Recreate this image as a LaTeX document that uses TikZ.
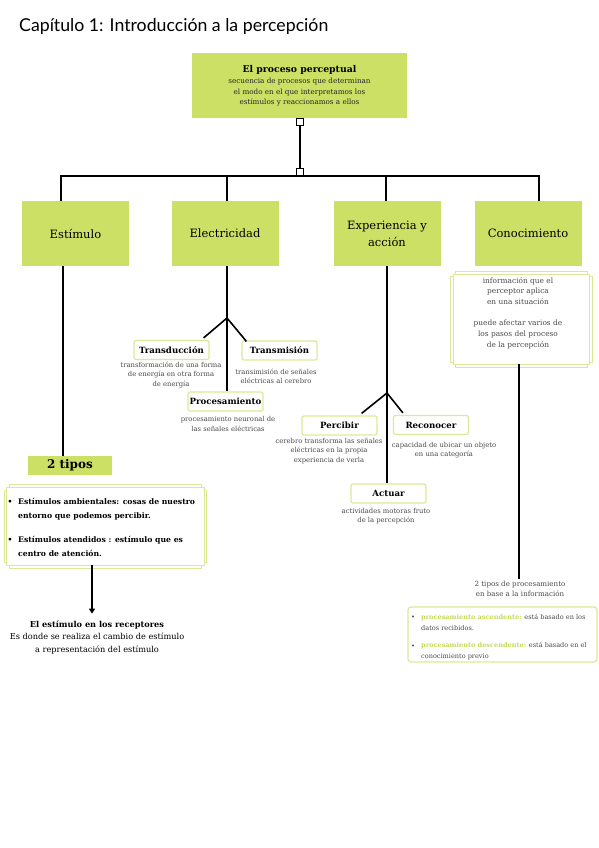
\documentclass[tikz,border=0pt]{standalone}
\usepackage{fontspec}
\usepackage{xcolor}
\setmainfont{DejaVu Serif}
\newfontfamily\titlefont{Lato}
\usetikzlibrary{arrows.meta}

\definecolor{boxgreen}{HTML}{CCE066}
\definecolor{framegreen}{HTML}{DCE898}
\definecolor{descgray}{HTML}{4A4A4A}
\definecolor{accgreen}{HTML}{C4DB55}

\tikzset{
  mainbox/.style={fill=boxgreen, minimum width=107pt, minimum height=65pt, inner sep=2pt, align=center, font=\fontsize{11.5}{14}\selectfont},
  subbox/.style={draw=framegreen, line width=1.2pt, fill=white, rounded corners=2pt, minimum width=75pt, minimum height=19pt, inner sep=1pt, font=\bfseries\fontsize{8.6}{10}\selectfont},
  desc/.style={align=center, text=descgray, font=\fontsize{6.8}{9.3}\selectfont, inner sep=0pt},
  link/.style={line width=1.6pt},
  sq/.style={draw, line width=1.3pt, fill=white, minimum size=6.5pt, inner sep=0pt},
  frameline/.style={draw=framegreen, line width=0.7pt},
}

\begin{document}
\begin{tikzpicture}[x=1pt,y=-1pt]
\useasboundingbox (0,0) rectangle (599,848);
\fill[white] (0,0) rectangle (599,848);

% title
\node[anchor=west, inner sep=0pt, font=\titlefont\fontsize{17.7}{20}\selectfont] (title) at (19,27) {Capítulo 1: Introducción a la percepción};

% top box
\node[mainbox, minimum width=215pt] (top) at (299.5,85.5) {};
\node[font=\bfseries\fontsize{9.3}{11}\selectfont, inner sep=0pt] (toph) at (299.5,70) {El proceso perceptual};
\node[desc, text=black!85, font=\fontsize{7.2}{10.5}\selectfont] (topd) at (299.5,92.5) {secuencia de procesos que determinan\\el modo en el que interpretamos los\\estímulos y reaccionamos a ellos};

% hub
\node[sq] (sqtop) at (300,122) {};
\node[sq] (sqbot) at (300,172) {};
\draw[link] (sqtop) -- (sqbot);
\coordinate (barL) at (61,176);
\coordinate (barB) at (227,176);
\coordinate (barC) at (386,176);
\coordinate (barR) at (539,176);
\draw[link, line width=2pt] ([xshift=-1pt]barL) -- ([xshift=1pt]barR);

% main boxes
\node[mainbox] (estimulo) at (75.5,233.5) {Estímulo};
\node[mainbox] (electr) at (225,233.5) {Electricidad};
\node[mainbox] (exper) at (387,233.5) {Experiencia y\\[3pt]acción};
\node[mainbox] (conoc) at (528,233.5) {Conocimiento};

\draw[link] (barL) -- (estimulo.north -| barL);
\draw[link] (barB) -- (electr.north -| barB);
\draw[link] (barC) -- (exper.north -| barC);
\draw[link] (barR) -- (conoc.north -| barR);

% estimulo column
\coordinate (xe) at (63,0);
\coordinate (xa) at (92,0);
\node[fill=boxgreen, minimum width=84pt, minimum height=19pt, inner sep=0pt, font=\bfseries\fontsize{12}{14}\selectfont] (dos) at (70,465.5) {2 tipos};
\draw[link] (estimulo.south -| xe) -- (dos.north -| xe);

\draw[frameline] (4,490) rectangle (206,562);
\draw[frameline] (9,484) rectangle (201,568);
\node[draw=framegreen, line width=0.7pt, fill=white, minimum width=198pt, minimum height=78pt, inner sep=0pt] (estframe) at (105,526) {};
\node[font=\bfseries\fontsize{7.7}{14}\selectfont, inner sep=0pt] at (10,502) {\textbullet};
\node[anchor=west, align=left, font=\bfseries\fontsize{7.7}{14}\selectfont, inner sep=0pt] (amb) at (18,509) {Estímulos ambientales: cosas de nuestro\\entorno que podemos percibir.};
\node[font=\bfseries\fontsize{7.7}{14}\selectfont, inner sep=0pt] at (10,540) {\textbullet};
\node[anchor=west, align=left, font=\bfseries\fontsize{7.7}{14}\selectfont, inner sep=0pt] (aten) at (18,546.5) {Estímulos atendidos : estímulo que es\\centro de atención.};

\node[align=center, font=\fontsize{8.2}{12.5}\selectfont, inner sep=0pt] (recep) at (97,637.5) {\textbf{El estímulo en los receptores}\\Es donde se realiza el cambio de estímulo\\a representación del estímulo};
\draw[link, -{Triangle[length=5pt,width=6pt]}] (estframe.south -| xa) -- ([yshift=7pt]recep.north -| xa);

% electricidad branch
\coordinate (brE) at (227,318);
\node[subbox] (transd) at (171.5,350) {Transducción};
\node[subbox] (transm) at (279.5,350.5) {Transmisión};
\node[subbox] (proces) at (225.5,401.5) {Procesamiento};
\draw[link] (electr.south -| brE) -- (brE);
\draw[link] (brE) -- ([xshift=-6pt,yshift=2pt]transd.north east);
\draw[link] (brE) -- ([xshift=5pt,yshift=-1pt]transm.north west);
\draw[link] (brE) -- (proces.north -| brE);
\node[desc] (transdd) at (171,375) {transformación de una forma\\de energía en otra forma\\de energía};
\node[desc] (transmd) at (276,376) {transimisión de señales\\eléctricas al cerebro};
\node[desc] (procesd) at (228,424) {procesamiento neuronal de\\las señales eléctricas};

% experiencia branch
\coordinate (brX) at (387,393);
\node[subbox] (percib) at (339.5,425.5) {Percibir};
\node[subbox] (recon) at (431,425) {Reconocer};
\node[subbox] (actuar) at (388.5,493.5) {Actuar};
\draw[link] (exper.south -| brX) -- (brX);
\draw[link] (brX) -- ([xshift=-16pt,yshift=2pt]percib.north east);
\draw[link] (brX) -- ([xshift=10pt,yshift=2pt]recon.north west);
\draw[link] (brX) -- (actuar.north -| brX);
\node[desc] (percibd) at (329,451) {cerebro transforma las señales\\eléctricas en la propia\\experiencia de verla};
\node[desc] (recond) at (444,450) {capacidad de ubicar un objeto\\en una categoría};
\node[desc] (actuard) at (386,516) {actividades motoras fruto\\de la percepción};

% conocimiento column
\coordinate (xc) at (519,0);
\draw[frameline] (450,276) rectangle (592,362);
\draw[frameline] (455,271) rectangle (587,367);
\node[draw=framegreen, line width=0.7pt, fill=white, minimum width=136pt, minimum height=90pt, inner sep=0pt] (cframe) at (521,319) {};
\node[desc, font=\fontsize{7.4}{10.67}\selectfont] (conocd) at (518,313) {información que el\\perceptor aplica\\en una situación\\[10.67pt]puede afectar varios de\\los pasos del proceso\\de la percepción};
\node[desc, font=\fontsize{7.1}{10}\selectfont] (proctxt) at (520,589) {2 tipos de procesamiento\\en base a la información};
\draw[link] (cframe.south -| xc) -- ([yshift=2pt]proctxt.north -| xc);

\node[draw=framegreen, line width=1.2pt, rounded corners=3pt, minimum width=189pt, minimum height=55pt, inner sep=0pt] (proclist) at (502.5,634.5) {};
\node[desc] at (413,618) {\textbullet};
\node[desc, anchor=west, align=left, font=\fontsize{6.55}{11}\selectfont] (asc) at (421,622.5) {\textcolor{accgreen}{\bfseries procesamiento ascendente:} está basado en los\\datos recibidos.};
\node[desc] at (413,647) {\textbullet};
\node[desc, anchor=west, align=left, font=\fontsize{6.55}{11}\selectfont] (desc) at (421,651.5) {\textcolor{accgreen}{\bfseries procesamiento descendente:} está basado en el\\conocimiento previo};
\end{tikzpicture}
\end{document}
